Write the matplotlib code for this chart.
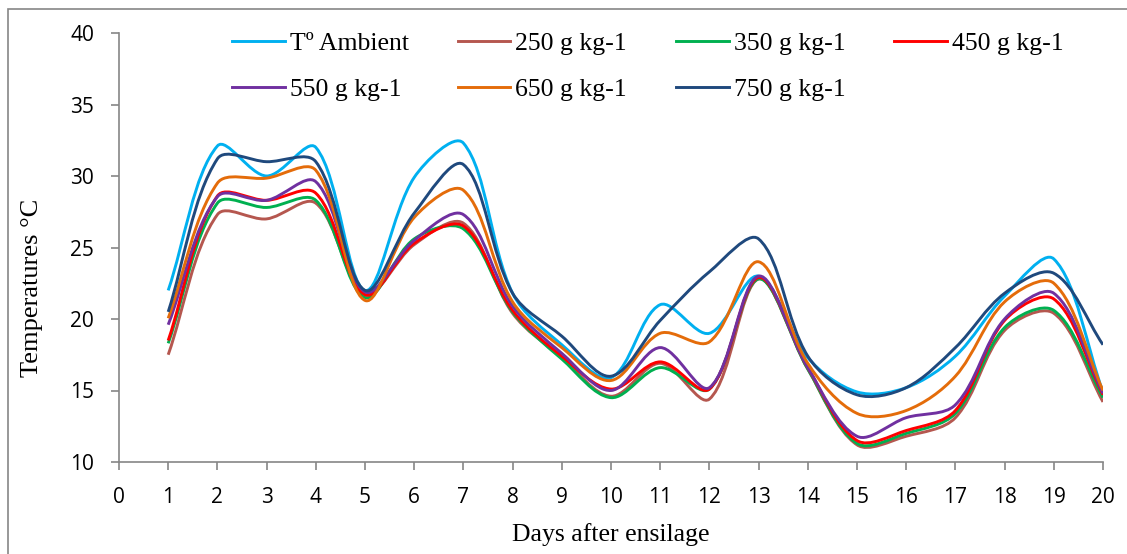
import numpy as np
import matplotlib
matplotlib.use("Agg")
import matplotlib.pyplot as plt
from matplotlib.path import Path
from matplotlib.patches import PathPatch, Rectangle
from matplotlib.lines import Line2D

# Data (days 1..20)
days = np.arange(1, 21)
ambient = [22.0, 32.1, 30.0, 32.0, 22.0, 29.9, 32.3, 21.8, 18.2, 15.9,
           21.0, 19.0, 23.0, 17.3, 14.9, 15.2, 17.4, 21.6, 24.2, 14.9]
g250 = [17.5, 27.3, 27.0, 28.1, 21.7, 25.2, 26.7, 20.4, 17.3, 14.6,
        16.9, 14.4, 22.8, 16.5, 11.2, 11.8, 13.1, 19.2, 20.4, 14.2]
g350 = [18.3, 28.1, 27.8, 28.3, 21.5, 25.6, 26.3, 20.5, 17.2, 14.5,
        16.6, 15.1, 22.8, 16.5, 11.3, 12.0, 13.4, 19.4, 20.6, 14.5]
g450 = [18.5, 28.6, 28.3, 28.8, 21.7, 25.3, 26.5, 20.6, 17.4, 15.1,
        17.0, 15.1, 22.9, 16.6, 11.5, 12.2, 13.6, 19.9, 21.4, 14.7]
g550 = [19.6, 28.55, 28.3, 29.6, 21.9, 25.5, 27.3, 20.9, 17.6, 15.0,
        18.0, 15.2, 23.0, 16.6, 11.8, 13.1, 14.0, 20.0, 21.8, 14.8]
g650 = [20.05, 29.5, 29.85, 30.4, 21.3, 27.1, 29.0, 21.2, 18.0, 15.7,
        19.0, 18.4, 24.0, 16.9, 13.4, 13.6, 16.0, 21.2, 22.5, 15.0]
g750 = [20.5, 31.2, 31.0, 31.0, 22.0, 27.4, 30.8, 21.8, 18.8, 16.0,
        19.9, 23.3, 25.6, 17.4, 14.7, 15.2, 18.0, 21.8, 23.2, 18.2]

labels = ["Tº Ambient", "250 g kg-1", "350 g kg-1", "450 g kg-1",
          "550 g kg-1", "650 g kg-1", "750 g kg-1"]
series = [ambient, g250, g350, g450, g550, g650, g750]
colors = ["#00B0F0", "#B5574F", "#00B050", "#FF0000",
          "#7030A0", "#E46C0A", "#1F497D"]

W, H = 1127, 554
fig = plt.figure(figsize=(W / 100, H / 100), dpi=100)
ax = fig.add_axes([119 / W, 1 - 462 / H, (1103 - 119) / W, (462 - 33) / H])
ax.set_xlim(0, 20)
ax.set_ylim(10, 40)


def smooth_line(ax, xs, ys, color):
    # Excel-like smoothed line: cubic Bezier, tangents weighted by chord length
    pts = ax.transData.transform(np.column_stack([xs, ys]))
    n = len(pts)
    verts = [pts[0]]
    codes = [Path.MOVETO]
    for i in range(n - 1):
        p0 = pts[i - 1] if i > 0 else pts[i]
        p1 = pts[i]
        p2 = pts[i + 1]
        p3 = pts[i + 2] if i + 2 < n else pts[i + 1]
        d01 = np.hypot(*(p1 - p0))
        d12 = np.hypot(*(p2 - p1))
        d23 = np.hypot(*(p3 - p2))
        c1 = p1 + (p2 - p0) * (d12 / (d01 + d12)) / 3
        c2 = p2 - (p3 - p1) * (d12 / (d12 + d23)) / 3
        verts += [c1, c2, p2]
        codes += [Path.CURVE4] * 3
    verts = ax.transData.inverted().transform(np.array(verts))
    ax.add_patch(PathPatch(Path(verts, codes), fill=False, edgecolor=color,
                           lw=2.1, capstyle="butt", joinstyle="round"))


for ys, c in zip(series, colors):
    smooth_line(ax, days, ys, c)

gray = "#868686"
for s in ["top", "right"]:
    ax.spines[s].set_visible(False)
for s in ["left", "bottom"]:
    ax.spines[s].set_color(gray)
    ax.spines[s].set_linewidth(1.2)
ax.set_xticks(range(0, 21))
ax.set_yticks(range(10, 41, 5))
ax.tick_params(axis="both", direction="out", length=6, width=1.2, color=gray,
               labelsize=15, pad=12)
for t in ax.get_xticklabels() + ax.get_yticklabels():
    t.set_fontfamily("Open Sans")

serif = "Liberation Serif"
ax.set_xlabel("Days after ensilage", fontfamily=serif, fontsize=18.5, labelpad=11)
fig.text(32 / W, 1 - 288 / H, "Temperatures °C", rotation=90, ha="center",
         va="center", fontfamily=serif, fontsize=19)

# legend, row-wise order like the original
order = [0, 4, 1, 5, 2, 6, 3]
handles = [Line2D([], [], color=colors[i], lw=2.1) for i in order]
fig.legend(handles, [labels[i] for i in order], ncol=4, frameon=False,
           loc="upper left", bbox_to_anchor=(232 / W, 1 - 32 / H),
           prop={"family": serif, "size": 18.5}, handlelength=2.05,
           handletextpad=0.2, columnspacing=1.9, labelspacing=0.88,
           borderpad=0, borderaxespad=0)

# outer frame of the chart area
fig.add_artist(Rectangle((8 / W, -0.1), 1.2, 1.1 - 9 / H, transform=fig.transFigure,
                         fill=False, edgecolor=gray, lw=1.2))

fig.savefig("out.png", dpi=100)
